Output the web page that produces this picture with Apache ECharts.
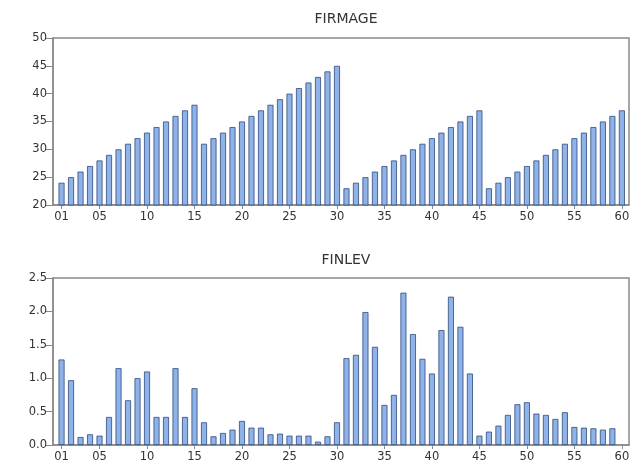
<!DOCTYPE html>
<html>
<head>
<meta charset="utf-8">
<script src="https://cdn.jsdelivr.net/npm/echarts@6/dist/echarts.min.js"></script>
<style>
html, body { margin: 0; padding: 0; background: #fff; }
#main { width: 639px; height: 463px; }
</style>
</head>
<body>
<div id="main"></div>
<script>
// observation index 1..60
var periods = [];
for (var i = 1; i <= 60; i++) periods.push(i);

var firmAge = [
    24, 25, 26, 27, 28, 29, 30, 31, 32, 33, 34, 35, 36, 37, 38,
    31, 32, 33, 34, 35, 36, 37, 38, 39, 40, 41, 42, 43, 44, 45,
    23, 24, 25, 26, 27, 28, 29, 30, 31, 32, 33, 34, 35, 36, 37,
    23, 24, 25, 26, 27, 28, 29, 30, 31, 32, 33, 34, 35, 36, 37
];

var finLev = [
    1.28, 0.97, 0.12, 0.16, 0.14, 0.42, 1.15, 0.67, 1.00, 1.10,
    0.42, 0.42, 1.15, 0.42, 0.85, 0.34, 0.13, 0.18, 0.23, 0.36,
    0.26, 0.26, 0.16, 0.17, 0.14, 0.14, 0.14, 0.05, 0.13, 0.34,
    1.30, 1.35, 1.99, 1.47, 0.60, 0.75, 2.28, 1.66, 1.29, 1.07,
    1.72, 2.22, 1.77, 1.07, 0.14, 0.20, 0.29, 0.45, 0.61, 0.64,
    0.47, 0.45, 0.39, 0.49, 0.27, 0.26, 0.25, 0.23, 0.25, null
];

var xTickValues = [1, 5, 10, 15, 20, 25, 30, 35, 40, 45, 50, 55, 60];

function pairs(vals) {
    var out = [];
    for (var i = 0; i < periods.length; i++) {
        if (vals[i] != null) out.push([periods[i], vals[i]]);
    }
    return out;
}

var axisGray = '#8a8a8a';
var labelFont = {color: '#333', fontFamily: 'DejaVu Sans', fontSize: 11.5};

function xAxisFor(gridIndex) {
    return {
        gridIndex: gridIndex,
        type: 'value',
        min: 0.1,
        max: 60.75,
        splitLine: {show: false},
        axisLine: {show: true, lineStyle: {color: axisGray, width: 1.5}},
        axisTick: {show: true, customValues: xTickValues, length: 4, lineStyle: {color: axisGray}},
        axisLabel: Object.assign({
            customValues: xTickValues,
            margin: 6,
            formatter: function (v) { return v < 10 ? '0' + v : String(v); }
        }, labelFont)
    };
}

function yAxisFor(gridIndex, min, max, step, digits) {
    return {
        gridIndex: gridIndex,
        type: 'value',
        min: min,
        max: max,
        interval: step,
        splitLine: {show: false},
        axisLine: {show: true, lineStyle: {color: axisGray, width: 1.5}},
        axisTick: {show: true, length: 7, lineStyle: {color: axisGray}},
        axisLabel: Object.assign({
            margin: 6,
            formatter: function (v) { return v.toFixed(digits); }
        }, labelFont)
    };
}

var barStyle = {color: '#8fb3e8', borderColor: '#2d4a7c', borderWidth: 0.8};

var option = {
    animation: false,
    backgroundColor: '#fff',
    title: [
        {text: 'FIRMAGE', left: 341, top: 7, textAlign: 'center',
         textStyle: {color: '#333', fontFamily: 'DejaVu Sans', fontSize: 14, fontWeight: 'normal'}},
        {text: 'FINLEV', left: 341, top: 248, textAlign: 'center',
         textStyle: {color: '#333', fontFamily: 'DejaVu Sans', fontSize: 14, fontWeight: 'normal'}}
    ],
    grid: [
        {left: 53, right: 10, top: 38, height: 167, show: true, borderColor: axisGray, borderWidth: 1.5},
        {left: 53, right: 10, top: 278, height: 168, show: true, borderColor: axisGray, borderWidth: 1.5}
    ],
    xAxis: [xAxisFor(0), xAxisFor(1)],
    yAxis: [yAxisFor(0, 20, 50, 5, 0), yAxisFor(1, 0, 2.5, 0.5, 1)],
    series: [
        {
            name: 'FIRMAGE', type: 'bar', xAxisIndex: 0, yAxisIndex: 0,
            barWidth: 6, clip: true,
            itemStyle: barStyle,
            data: pairs(firmAge)
        },
        {
            name: 'FINLEV', type: 'bar', xAxisIndex: 1, yAxisIndex: 1,
            barWidth: 6, clip: true,
            itemStyle: barStyle,
            data: pairs(finLev)
        }
    ]
};

echarts.init(document.getElementById('main')).setOption(option);
</script>
</body>
</html>
